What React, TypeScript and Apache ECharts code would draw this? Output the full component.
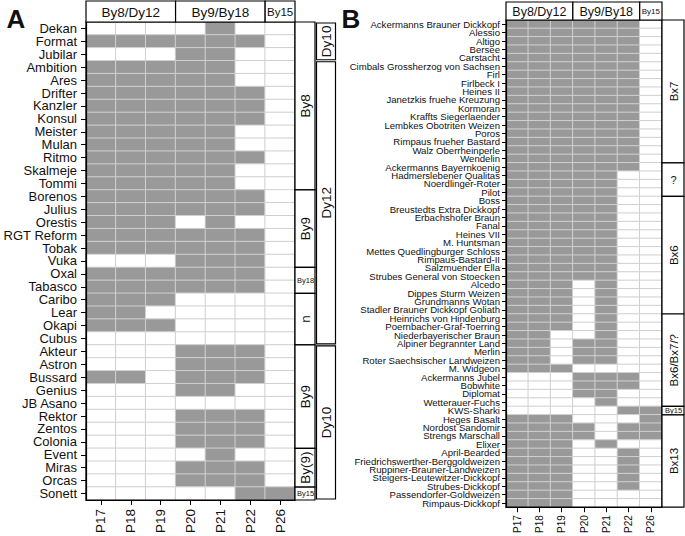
import React, { useEffect, useRef } from 'react';
import * as echarts from 'echarts';

const COLUMNS = ['P17', 'P18', 'P19', 'P20', 'P21', 'P22', 'P26'];
const HEADER_LABELS = ['By8/Dy12', 'By9/By18', 'By15'];
const HEADER_SPANS = [[0, 2], [3, 5], [6, 6]];

const ROWS_A = [
  'Dekan', 'Format', 'Jubilar', 'Ambition', 'Ares', 'Drifter', 'Kanzler', 'Konsul', 'Meister', 'Mulan',
  'Ritmo', 'Skalmeje', 'Tommi', 'Borenos', 'Julius', 'Orestis', 'RGT Reform', 'Tobak', 'Vuka', 'Oxal',
  'Tabasco', 'Caribo', 'Lear', 'Okapi', 'Cubus', 'Akteur', 'Astron', 'Bussard', 'Genius', 'JB Asano',
  'Rektor', 'Zentos', 'Colonia', 'Event', 'Miras', 'Orcas', 'Sonett',
];
const VALUES_A = [
  [0, 0, 0, 0, 1, 0, 0],
  [1, 1, 1, 1, 1, 1, 0],
  [0, 0, 0, 1, 1, 0, 0],
  [1, 1, 1, 1, 1, 0, 0],
  [1, 1, 1, 1, 1, 0, 0],
  [1, 1, 1, 1, 1, 1, 0],
  [1, 1, 1, 1, 1, 1, 0],
  [1, 1, 1, 1, 1, 1, 0],
  [1, 1, 1, 1, 1, 0, 0],
  [1, 1, 1, 1, 1, 0, 0],
  [1, 1, 1, 1, 1, 1, 0],
  [1, 1, 1, 1, 1, 0, 0],
  [1, 1, 1, 1, 1, 0, 0],
  [1, 1, 1, 1, 1, 1, 0],
  [1, 1, 1, 1, 1, 1, 0],
  [1, 1, 1, 0, 1, 0, 0],
  [1, 1, 1, 1, 1, 1, 0],
  [1, 1, 1, 1, 1, 1, 0],
  [0, 0, 0, 1, 1, 1, 0],
  [1, 1, 1, 1, 1, 1, 0],
  [1, 1, 1, 1, 1, 1, 0],
  [1, 1, 1, 0, 0, 0, 0],
  [1, 1, 0, 0, 0, 0, 0],
  [1, 1, 1, 0, 0, 0, 0],
  [0, 0, 0, 0, 0, 0, 0],
  [0, 0, 0, 1, 1, 1, 0],
  [0, 0, 0, 1, 1, 1, 0],
  [1, 1, 0, 1, 1, 1, 0],
  [0, 0, 0, 1, 1, 0, 0],
  [0, 0, 0, 0, 0, 0, 0],
  [0, 0, 0, 1, 1, 1, 0],
  [0, 0, 0, 1, 1, 1, 0],
  [0, 0, 0, 1, 1, 1, 0],
  [0, 0, 0, 0, 1, 0, 0],
  [0, 0, 0, 1, 1, 1, 0],
  [0, 0, 0, 1, 1, 1, 0],
  [0, 0, 0, 0, 0, 1, 1],
];
const GROUPS_A_INNER = [
  { label: 'By8', first: 'Dekan', last: 'Tommi' },
  { label: 'By9', first: 'Borenos', last: 'Vuka' },
  { label: 'By18', first: 'Oxal', last: 'Tabasco' },
  { label: 'n', first: 'Caribo', last: 'Cubus' },
  { label: 'By9', first: 'Akteur', last: 'Colonia' },
  { label: 'By(9)', first: 'Event', last: 'Orcas' },
  { label: 'By15', first: 'Sonett', last: 'Sonett' },
];
const GROUPS_A_OUTER = [
  { label: 'Dy10', first: 'Dekan', last: 'Jubilar' },
  { label: 'Dy12', first: 'Ambition', last: 'Cubus' },
  { label: 'Dy10', first: 'Akteur', last: 'Sonett' },
];

const ROWS_B = [
  'Ackermanns Brauner Dickkopf', 'Alessio', 'Altigo', 'Bersee', 'Carstacht', 'Cimbals Grossherzog von Sachsen',
  'Firl', 'Firlbeck I', 'Heines II', 'Janetzkis fruehe Kreuzung', 'Kormoran', 'Kraffts Siegerlaender',
  'Lembkes Obotriten Weizen', 'Poros', 'Rimpaus frueher Bastard', 'Walz Oberrheinperle', 'Wendelin',
  'Ackermanns Bayernkoenig', 'Hadmerslebener Qualitas', 'Noerdlinger-Roter', 'Pilot', 'Boss',
  'Breustedts Extra Dickkopf', 'Erbachshofer Braun', 'Fanal', 'Heines VII', 'M. Huntsman',
  'Mettes Quedlingburger Schloss', 'Rimpaus-Bastard-II', 'Salzmuender Ella', 'Strubes General von Stoecken',
  'Alcedo', 'Dippes Sturm Weizen', 'Grundmanns Wotan', 'Stadler Brauner Dickkopf Goliath',
  'Heinrichs von Hindenburg', 'Poernbacher-Graf-Toerring', 'Niederbayerischer Braun', 'Alpiner begrannter Land',
  'Merlin', 'Roter Saechsischer Landweizen', 'M. Widgeon', 'Ackermanns Jubel', 'Bobwhite', 'Diplomat',
  'Wetterauer-Fuchs', 'KWS-Sharki', 'Heges Basalt', 'Nordost Sandomir', 'Strengs Marschall', 'Elixer',
  'April-Bearded', 'Friedrichswerther-Berggoldweizen', 'Ruppiner-Brauner-Landweizen',
  'Steigers-Leutewitzer-Dickkopf', 'Strubes-Dickkopf', 'Passendorfer-Goldweizen', 'Rimpaus-Dickkopf',
];
const VALUES_B = [
  [1, 1, 1, 1, 1, 1, 0],
  [1, 1, 1, 1, 1, 1, 0],
  [1, 1, 1, 1, 1, 1, 0],
  [1, 1, 1, 1, 1, 1, 0],
  [1, 1, 1, 1, 1, 1, 0],
  [1, 1, 1, 1, 1, 1, 0],
  [1, 1, 1, 1, 1, 1, 0],
  [1, 1, 1, 1, 1, 1, 0],
  [1, 1, 1, 1, 1, 1, 0],
  [1, 1, 1, 1, 1, 1, 0],
  [1, 1, 1, 1, 1, 1, 0],
  [1, 1, 1, 1, 1, 1, 0],
  [1, 1, 1, 1, 1, 1, 0],
  [1, 1, 1, 1, 1, 1, 0],
  [1, 1, 1, 1, 1, 1, 0],
  [1, 1, 1, 1, 1, 1, 0],
  [1, 1, 1, 1, 1, 1, 0],
  [1, 1, 1, 1, 1, 1, 0],
  [1, 1, 1, 1, 1, 0, 0],
  [1, 1, 1, 1, 1, 0, 0],
  [1, 1, 1, 1, 1, 0, 0],
  [1, 1, 1, 1, 1, 0, 0],
  [1, 1, 1, 1, 1, 0, 0],
  [1, 1, 1, 1, 1, 0, 0],
  [1, 1, 1, 1, 1, 0, 0],
  [1, 1, 1, 1, 1, 0, 0],
  [1, 1, 1, 1, 1, 0, 0],
  [1, 1, 1, 1, 1, 0, 0],
  [1, 1, 1, 1, 1, 0, 0],
  [1, 1, 1, 1, 1, 0, 0],
  [1, 1, 1, 1, 1, 0, 0],
  [1, 1, 1, 0, 1, 0, 0],
  [1, 1, 1, 0, 1, 0, 0],
  [1, 1, 1, 0, 1, 0, 0],
  [1, 1, 1, 0, 1, 0, 0],
  [1, 1, 1, 0, 1, 0, 0],
  [1, 1, 1, 0, 1, 0, 0],
  [1, 1, 0, 0, 1, 0, 0],
  [1, 1, 0, 1, 1, 0, 0],
  [1, 1, 0, 1, 1, 0, 0],
  [1, 1, 0, 1, 1, 0, 0],
  [1, 1, 1, 0, 0, 0, 0],
  [0, 0, 0, 1, 1, 1, 0],
  [0, 0, 0, 1, 1, 1, 0],
  [0, 0, 0, 1, 1, 0, 0],
  [0, 0, 0, 0, 1, 0, 0],
  [0, 0, 0, 0, 0, 1, 1],
  [1, 1, 1, 0, 0, 0, 1],
  [1, 1, 1, 1, 0, 1, 1],
  [1, 1, 1, 1, 0, 1, 1],
  [1, 1, 1, 0, 1, 0, 0],
  [1, 1, 1, 0, 0, 1, 0],
  [1, 1, 1, 0, 0, 1, 0],
  [1, 1, 1, 0, 0, 1, 0],
  [1, 1, 1, 0, 0, 1, 0],
  [1, 1, 1, 0, 0, 1, 0],
  [1, 1, 1, 0, 0, 0, 0],
  [1, 1, 1, 0, 0, 0, 0],
];
const GROUPS_B = [
  { label: 'Bx7', first: 'Ackermanns Brauner Dickkopf', last: 'Wendelin' },
  { label: '?', first: 'Ackermanns Bayernkoenig', last: 'Pilot' },
  { label: 'Bx6', first: 'Boss', last: 'Stadler Brauner Dickkopf Goliath' },
  { label: 'Bx6/Bx7/?', first: 'Heinrichs von Hindenburg', last: 'Wetterauer-Fuchs' },
  { label: 'By15', first: 'KWS-Sharki', last: 'KWS-Sharki' },
  { label: 'Bx13', first: 'Heges Basalt', last: 'Rimpaus-Dickkopf' },
];

const FONT = '"Liberation Sans", Arial, Helvetica, sans-serif';
const TEXT_COLOR = '#111111';
const GRAY = '#999999';
const CELL_LINE = '#d0d0d0';

function heatData(values: number[][]) {
  const out: number[][] = [];
  values.forEach((row, r) => row.forEach((v, c) => out.push([c, r, v])));
  return out;
}

export default function App() {
  const ref = useRef<HTMLDivElement>(null);

  useEffect(() => {
    if (!ref.current) return;
    const chart = echarts.init(ref.current, undefined, { renderer: 'svg' });

    const xAxisBase = (gi: number, fs: number, margin: number) => ({
      type: 'category',
      gridIndex: gi,
      data: COLUMNS,
      position: 'bottom',
      z: 10,
      axisLine: { show: true, lineStyle: { color: '#000', width: 1.2 } },
      axisTick: { show: true, alignWithLabel: true, length: 5, lineStyle: { color: '#000', width: 1 } },
      axisLabel: { rotate: 90, fontSize: fs, fontFamily: FONT, color: TEXT_COLOR, margin, interval: 0 },
      splitLine: { show: false },
    });
    const yAxisBase = (gi: number, rows: string[], fs: number, margin: number, tick: number) => ({
      type: 'category',
      gridIndex: gi,
      data: rows,
      inverse: true,
      z: 10,
      axisLine: { show: true, lineStyle: { color: '#000', width: 1.2 } },
      axisTick: { show: true, alignWithLabel: true, length: tick, lineStyle: { color: '#000', width: 1 } },
      axisLabel: { fontSize: fs, fontFamily: FONT, color: TEXT_COLOR, margin, interval: 0, lineHeight: fs },
      splitLine: { show: false },
    });

    const pieces = [
      { value: 0, color: '#ffffff' },
      { value: 1, color: GRAY },
    ];

    chart.setOption({
      animation: false,
      grid: [
        { left: 86, top: 22, width: 209, height: 480 },
        { left: 506, top: 20, width: 156, height: 490 },
      ],
      xAxis: [xAxisBase(0, 13.5, 9), xAxisBase(1, 10, 8)],
      yAxis: [yAxisBase(0, ROWS_A, 13, 9, 5), yAxisBase(1, ROWS_B, 9.6, 6, 4)],
      visualMap: [
        { type: 'piecewise', show: false, seriesIndex: 0, dimension: 2, pieces },
        { type: 'piecewise', show: false, seriesIndex: 1, dimension: 2, pieces },
      ],
      series: [
        {
          type: 'heatmap', xAxisIndex: 0, yAxisIndex: 0, data: heatData(VALUES_A), silent: true,
          itemStyle: { borderColor: CELL_LINE, borderWidth: 1 },
        },
        {
          type: 'heatmap', xAxisIndex: 1, yAxisIndex: 1, data: heatData(VALUES_B), silent: true,
          itemStyle: { borderColor: CELL_LINE, borderWidth: 1 },
        },
      ],
    });

    const geom = (gi: number, nRows: number) => {
      const p0 = chart.convertToPixel({ gridIndex: gi } as any, [0, 0]) as number[];
      const p1 = chart.convertToPixel({ gridIndex: gi } as any, [1, 1]) as number[];
      const cw = p1[0] - p0[0];
      const rh = p1[1] - p0[1];
      const left = p0[0] - cw / 2;
      const top = p0[1] - rh / 2;
      return { left, top, cw, rh, right: left + COLUMNS.length * cw, bottom: top + nRows * rh };
    };

    const gA = geom(0, ROWS_A.length);
    const gB = geom(1, ROWS_B.length);
    const elements: any[] = [];

    const box = (x: number, y: number, w: number, h: number) => ({
      type: 'rect', z: 100, shape: { x, y, width: w, height: h },
      style: { fill: '#ffffff', stroke: '#000000', lineWidth: 1.2 },
    });
    const label = (text: string, x: number, y: number, fs: number, rotate: boolean, bold = false) => ({
      type: 'text', z: 101, x, y, rotation: rotate ? Math.PI / 2 : 0,
      style: {
        text, fontSize: fs, fontFamily: FONT, fontWeight: bold ? 'bold' : 'normal', fill: TEXT_COLOR,
        align: 'center', verticalAlign: 'middle',
      },
    });

    // frames around the cell panels
    [gA, gB].forEach((g) => {
      elements.push({
        type: 'rect', z: 99, shape: { x: g.left, y: g.top, width: g.right - g.left, height: g.bottom - g.top },
        style: { fill: 'none', stroke: '#000000', lineWidth: 1.2 },
      });
    });

    // header boxes
    const headers = [
      { g: gA, top: 1, sizes: [13.5, 13.5, 11.5] },
      { g: gB, top: 2, sizes: [12.5, 12.5, 8] },
    ];
    headers.forEach(({ g, top, sizes }) => {
      HEADER_SPANS.forEach(([a, b], i) => {
        const x0 = g.left + a * g.cw;
        const x1 = g.left + (b + 1) * g.cw;
        elements.push(box(x0, top, x1 - x0, g.top - top));
        elements.push(label(HEADER_LABELS[i], (x0 + x1) / 2, (top + g.top) / 2 + 0.5, sizes[i], false));
      });
    });

    // row-group boxes
    const groupCol = (
      g: any, rows: string[], groups: { label: string; first: string; last: string }[],
      x0: number, w: number, inset: number, fs: number, special: Record<string, number>,
    ) => {
      groups.forEach((grp) => {
        const a = rows.indexOf(grp.first);
        const b = rows.indexOf(grp.last);
        const y0 = g.top + a * g.rh + inset;
        const y1 = g.top + (b + 1) * g.rh - inset;
        elements.push(box(x0, y0, w, y1 - y0));
        const small = special[grp.label];
        elements.push(label(grp.label, x0 + w / 2 + 0.5, (y0 + y1) / 2, small ?? fs, small === undefined));
      });
    };
    groupCol(gA, ROWS_A, GROUPS_A_INNER, gA.right, 20, 0, 13.5, { By18: 7.5, By15: 7.5 });
    groupCol(gA, ROWS_A, GROUPS_A_OUTER, gA.right + 21.5, 19, 1, 13.5, {});
    groupCol(gB, ROWS_B, GROUPS_B, gB.right, 22, 0, 11.5, { By15: 7.5, '?': 11 });

    // panel letters
    elements.push(label('A', 16, 19, 26, false, true));
    elements.push(label('B', 351, 19, 26, false, true));

    chart.setOption({ graphic: elements });

    return () => chart.dispose();
  }, []);

  return <div ref={ref} style={{ position: 'absolute', left: 0, top: 0, width: 685, height: 536 }} />;
}
